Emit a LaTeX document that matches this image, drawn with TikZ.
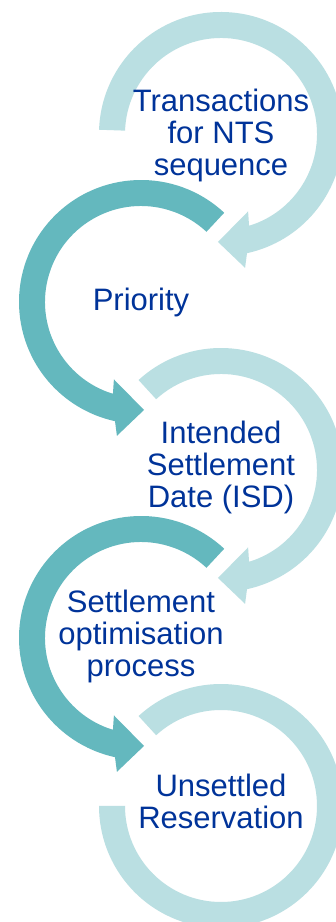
\documentclass[tikz,border=0pt]{standalone}
\usepackage{fontspec}
\setmainfont{Liberation Sans}
\usetikzlibrary{calc}
\definecolor{lightring}{RGB}{186,223,226}
\definecolor{tealring}{RGB}{100,184,190}
\definecolor{textblue}{RGB}{0,51,153}

\begin{document}
\begin{tikzpicture}
	[x=1pt,y=1pt,
	 ring/.style={preaction={draw=white,line width=8pt,line join=round}},
	 steptext/.style={anchor=base,align=center,inner sep=0pt,text=textblue,font=\fontsize{31}{32}\selectfont}]
	\useasboundingbox (0,0) rectangle (336,922);
	\clip (0,0) rectangle (336,922);
	\coordinate (c1) at (221,788);
	\coordinate (c2) at (141,620);
	\coordinate (c3) at (221,452);
	\coordinate (c4) at (141,284);
	\coordinate (c5) at (221,116);

	% right rings, clockwise
	\fill[ring,lightring] ($(c1)+(178:122)$) arc[start angle=178,end angle=-77.7,radius=122]
		-- ($(c1)+(-79.8:136)$) -- ($(c1)+(-91.6:108)$) -- ($(c1)+(-70.7:82)$)
		-- ($(c1)+(-73:96)$) arc[start angle=-73,end angle=178,radius=96] -- cycle;
	\node[steptext] (t1) at ($(c1)+(0,-42)$) {Transactions\\for NTS\\sequence};

	% left rings, counter clockwise
	\fill[ring,tealring] ($(c2)+(47:122)$) arc[start angle=47,end angle=257.7,radius=122]
		-- ($(c2)+(259.8:136)$) -- ($(c2)+(271.6:108)$) -- ($(c2)+(250.7:82)$)
		-- ($(c2)+(253:96)$) arc[start angle=253,end angle=47,radius=96] -- cycle;
	\node[steptext] (t2) at ($(c2)+(0,-9)$) {Priority};

	\fill[ring,lightring] ($(c3)+(132.5:122)$) arc[start angle=132.5,end angle=-77.7,radius=122]
		-- ($(c3)+(-79.8:136)$) -- ($(c3)+(-91.6:108)$) -- ($(c3)+(-70.7:82)$)
		-- ($(c3)+(-73:96)$) arc[start angle=-73,end angle=132.5,radius=96] -- cycle;
	\node[steptext] (t3) at ($(c3)+(0,-38)$) {Intended\\Settlement\\Date (ISD)};

	\fill[ring,tealring] ($(c4)+(47:122)$) arc[start angle=47,end angle=257.7,radius=122]
		-- ($(c4)+(259.8:136)$) -- ($(c4)+(271.6:108)$) -- ($(c4)+(250.7:82)$)
		-- ($(c4)+(253:96)$) arc[start angle=253,end angle=47,radius=96] -- cycle;
	\node[steptext] (t4) at ($(c4)+(0,-39)$) {Settlement\\optimisation\\process};

	% last ring, no head
	\fill[ring,lightring] ($(c5)+(132.5:122)$) arc[start angle=132.5,end angle=-180,radius=122]
		-- ($(c5)+(-180:96)$) arc[start angle=-180,end angle=132.5,radius=96] -- cycle;
	\node[steptext] (t5) at ($(c5)+(0,-23)$) {Unsettled\\Reservation};
\end{tikzpicture}
\end{document}
